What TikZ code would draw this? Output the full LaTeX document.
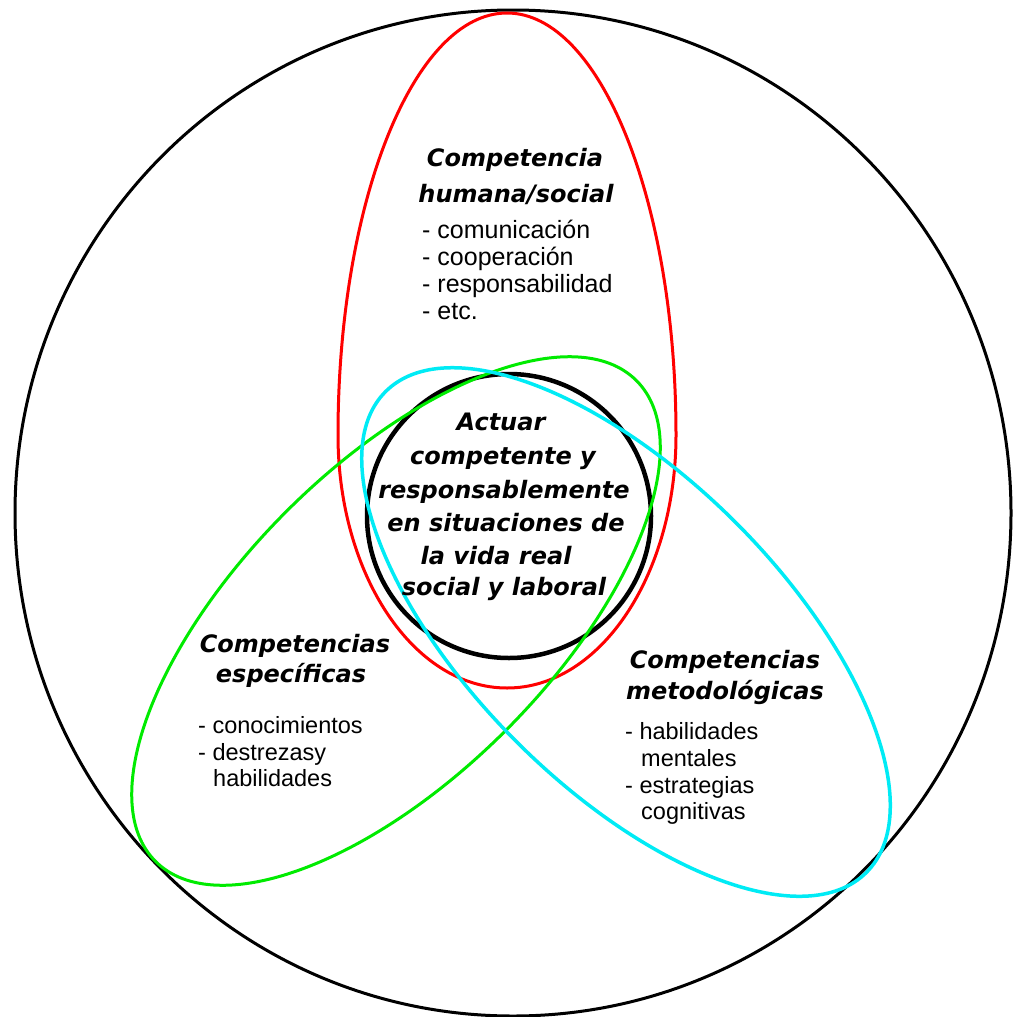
\documentclass[tikz,border=0pt]{standalone}
\usepackage{fontspec}
\setmainfont{Liberation Sans}
\newfontfamily\ttlfont{DejaVu Sans}
\definecolor{redc}{RGB}{255,0,0}
\definecolor{greenc}{RGB}{0,235,0}
\definecolor{cyanc}{RGB}{0,235,245}
\begin{document}
\begin{tikzpicture}[x=1pt,y=-1pt,
  ttl/.style={font=\ttlfont\bfseries\itshape\fontsize{24}{28}\selectfont, inner sep=0pt, anchor=base},
  itm/.style={font=\fontsize{23.5}{27}\selectfont, inner sep=0pt, anchor=base west},
  itmtop/.style={itm, font=\fontsize{25}{27}\selectfont},
  outerl/.style={draw=black, line width=3pt},
  innerl/.style={draw=black, line width=4.5pt},
  redl/.style={draw=redc, line width=3pt},
  greenl/.style={draw=greenc, line width=3pt},
  cyanl/.style={draw=cyanc, line width=3.5pt}]
\useasboundingbox (0,0) rectangle (1013,1017);
\fill[white] (0,0) rectangle (1013,1017);
% shapes
\draw[outerl] (513,513) ellipse [x radius=498, y radius=503];
\draw[innerl] (509,516) circle [radius=142];
\draw[redl] (338,435) arc [start angle=180, end angle=360, x radius=169, y radius=422]
  arc [start angle=0, end angle=180, x radius=169, y radius=253] -- cycle;
\draw[greenl, rotate around={45:(396,621)}] (396,621) ellipse [x radius=340, y radius=155];
\draw[cyanl, rotate around={-45:(626,632)}] (626,632) ellipse [x radius=340, y radius=155];
% top block
\node[ttl] (t1) at (515,166) {Competencia};
\node[ttl] (t2) at (516,202) {humana/social};
\node[itmtop] (t3) at (422,238) {- comunicación};
\node[itmtop] (t4) at (422,265) {- cooperación};
\node[itmtop] (t5) at (422,292) {- responsabilidad};
\node[itmtop] (t6) at (422,319) {- etc.};
% center block
\node[ttl] (c1) at (501,430) {Actuar};
\node[ttl] (c2) at (503,464) {competente y};
\node[ttl] (c3) at (504,498) {responsablemente};
\node[ttl] (c4) at (506,531) {en situaciones de};
\node[ttl] (c5) at (496,564) {la vida real};
\node[ttl] (c6) at (504,595) {social y laboral};
% left block
\node[ttl] (l1) at (295,652) {Competencias};
\node[ttl] (l2) at (291,682) {específicas};
\node[itm] (l3) at (198,733) {- conocimientos};
\node[itm] (l4) at (198,760) {- destrezasy};
\node[itm] (l5) at (213,786) {habilidades};
% right block
\node[ttl] (r1) at (725,668) {Competencias};
\node[ttl] (r2) at (725,699) {metodológicas};
\node[itm] (r3) at (625,739) {- habilidades};
\node[itm] (r4) at (641,766) {mentales};
\node[itm] (r5) at (625,793) {- estrategias};
\node[itm] (r6) at (641,819) {cognitivas};
\end{tikzpicture}
\end{document}
